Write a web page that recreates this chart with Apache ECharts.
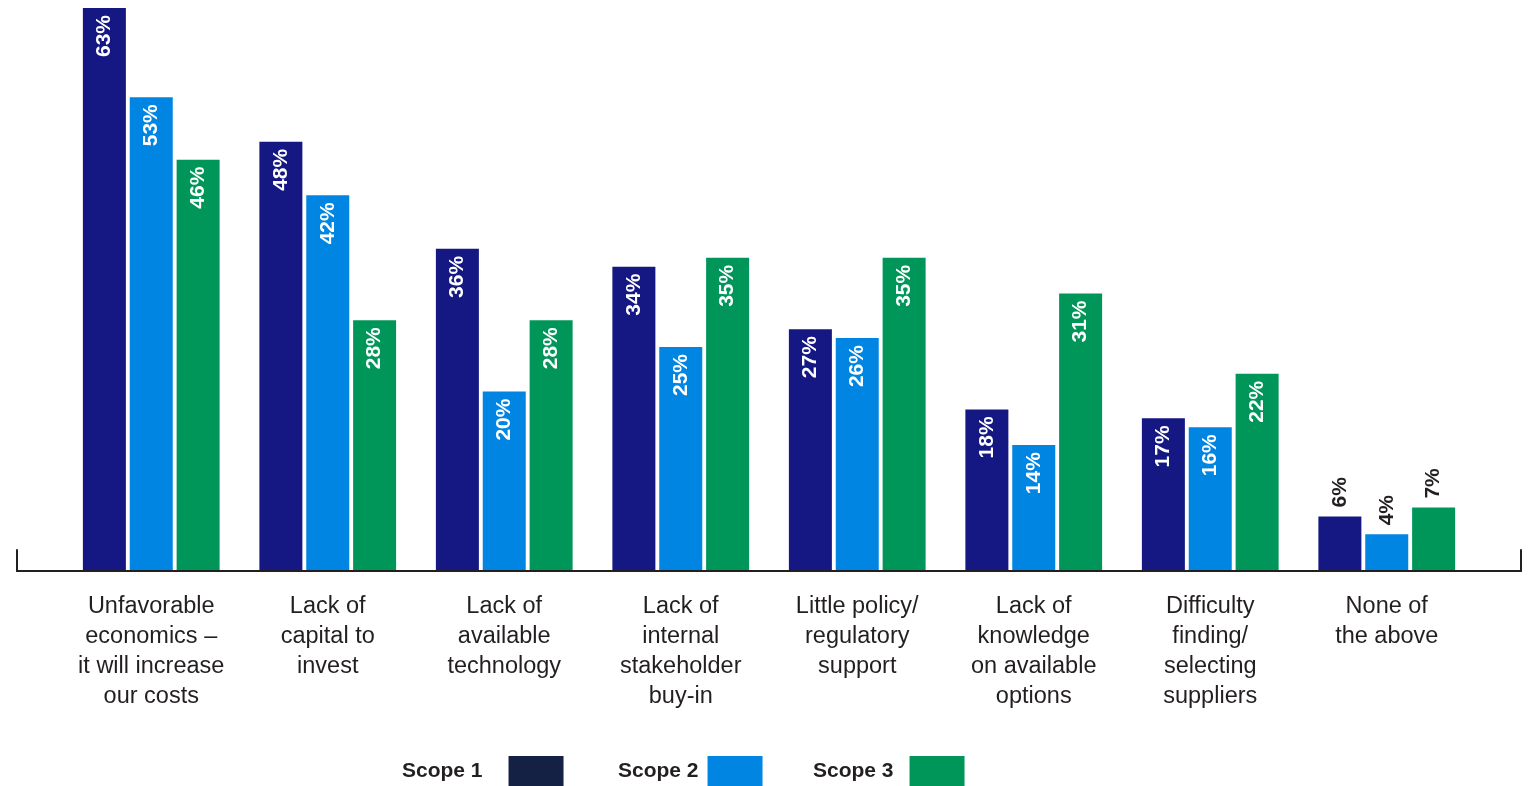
<!DOCTYPE html>
<html>
<head>
<meta charset="utf-8">
<script src="https://cdn.jsdelivr.net/npm/echarts@6/dist/echarts.min.js"></script>
<style>
  html, body { margin: 0; padding: 0; background: #fff; }
  #chart { width: 1531px; height: 786px; }
</style>
</head>
<body>
<div id="chart"></div>
<script>
// Barriers to reducing emissions, share of respondents by scope
const categories = [
  'Unfavorable\neconomics –\nit will increase\nour costs',
  'Lack of\ncapital to\ninvest',
  'Lack of\navailable\ntechnology',
  'Lack of\ninternal\nstakeholder\nbuy-in',
  'Little policy/\nregulatory\nsupport',
  'Lack of\nknowledge\non available\noptions',
  'Difficulty\nfinding/\nselecting\nsuppliers',
  'None of\nthe above'
];
const scope1 = [63, 48, 36, 34, 27, 18, 17, 6];
const scope2 = [53, 42, 20, 25, 26, 14, 16, 4];
const scope3 = [46, 28, 28, 35, 35, 31, 22, 7];
const seriesNames = ['Scope 1', 'Scope 2', 'Scope 3'];

const barColors = ['#151782', '#0086e2', '#00965a'];
const legendSwatch = ['#152144', '#0086e2', '#00965a'];
const FONT = '"Liberation Sans", Arial, sans-serif';

// Short bars carry their value above the bar in dark text
const SMALL = 10;
function toItems(values) {
  return values.map(v => v < SMALL ? {
    value: v,
    label: { position: 'top', align: 'left', color: '#231f20', distance: 9 }
  } : v);
}

const insideLabel = {
  show: true,
  position: 'insideTop',
  rotate: 90,
  align: 'right',
  verticalAlign: 'middle',
  distance: 7,
  color: '#ffffff',
  fontFamily: FONT,
  fontWeight: 'bold',
  fontSize: 21,
  formatter: p => p.value + '%'
};

const series = [scope1, scope2, scope3].map((vals, i) => ({
  name: seriesNames[i],
  type: 'bar',
  xAxisIndex: 0,
  yAxisIndex: 0,
  barWidth: 43,
  barGap: '9%',
  itemStyle: { color: barColors[i] },
  label: insideLabel,
  data: toItems(vals)
}));

const legendLeft = [402, 618, 813];
const legendPad = [21, 4, 11];
const legends = seriesNames.map((name, i) => ({
  data: [{ name: name, icon: 'rect', itemStyle: { color: legendSwatch[i] } }],
  left: legendLeft[i],
  top: 756,
  align: 'right',
  itemWidth: 55,
  itemHeight: 30,
  padding: 0,
  selectedMode: false,
  textStyle: {
    fontFamily: FONT,
    fontWeight: 'bold',
    fontSize: 21,
    color: '#231f20',
    padding: [0, legendPad[i], 0, 0]
  }
}));

const chart = echarts.init(document.getElementById('chart'));
chart.setOption({
  animation: false,
  backgroundColor: '#ffffff',
  legend: legends,
  grid: [
    { left: 63, right: 56, top: 8, bottom: 216 },
    // frame for the baseline with its end ticks
    { left: 17, right: 10, top: 550, bottom: 215 }
  ],
  xAxis: [
    {
      type: 'category',
      gridIndex: 0,
      data: categories,
      axisLine: { show: false },
      axisTick: { show: false },
      axisLabel: {
        margin: 22,
        fontFamily: FONT,
        fontSize: 23.5,
        lineHeight: 30,
        color: '#231f20',
        interval: 0
      }
    },
    {
      type: 'value',
      gridIndex: 1,
      min: 0, max: 1,
      axisLine: { show: true, onZero: false, lineStyle: { color: '#231f20', width: 2 } },
      axisTick: { show: false },
      axisLabel: { show: false },
      splitLine: { show: false }
    }
  ],
  yAxis: [
    {
      type: 'value',
      gridIndex: 0,
      min: 0, max: 63,
      show: false
    },
    {
      type: 'value', gridIndex: 1, position: 'left', min: 0, max: 1,
      axisLine: { show: true, lineStyle: { color: '#231f20', width: 2 } },
      axisTick: { show: false }, axisLabel: { show: false }, splitLine: { show: false }
    },
    {
      type: 'value', gridIndex: 1, position: 'right', min: 0, max: 1,
      axisLine: { show: true, lineStyle: { color: '#231f20', width: 2 } },
      axisTick: { show: false }, axisLabel: { show: false }, splitLine: { show: false }
    }
  ],
  series: series
});
</script>
</body>
</html>
